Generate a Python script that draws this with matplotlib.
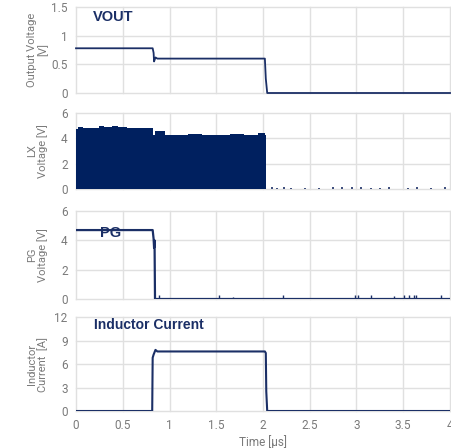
import matplotlib
matplotlib.use("Agg")
import matplotlib.pyplot as plt
import numpy as np

# ---------------- data ----------------
# Output voltage (V)
t_vout = [0.0, 0.82, 0.83, 0.835, 0.85, 0.87, 2.02, 2.03, 2.045, 4.0]
vout   = [0.78, 0.78, 0.70, 0.55, 0.62, 0.60, 0.60, 0.25, 0.0, 0.0]

# LX switching envelope (V)
t_lx  = [0.0, 0.02, 0.08, 0.15, 0.25, 0.30, 0.38, 0.45, 0.55, 0.65, 0.75, 0.82, 0.825, 0.83, 0.835,
         0.85, 0.95, 1.05, 1.2, 1.35, 1.5, 1.65, 1.8, 1.95, 2.02, 2.03]
lx_top = [4.7, 4.9, 4.85, 4.85, 4.95, 4.9, 5.0, 4.9, 4.85, 4.85, 4.85, 4.85, 4.3, 3.5, 4.3,
          4.6, 4.3, 4.3, 4.35, 4.3, 4.3, 4.35, 4.3, 4.4, 4.3, 4.1]
t_lx_glitch = [2.10, 2.15, 2.22, 2.30, 2.45, 2.60, 2.75, 2.85, 2.95, 3.05, 3.15, 3.25, 3.35, 3.55, 3.65, 3.80, 3.95]
lx_glitch   = [0.12, 0.10, 0.12, 0.10, 0.10, 0.10, 0.12, 0.14, 0.12, 0.12, 0.10, 0.10, 0.12, 0.10, 0.12, 0.10, 0.12]

# PG voltage (V)
t_pg = [0.0, 0.82, 0.83, 0.835, 0.84, 0.845, 4.0]
pg   = [4.7, 4.7, 4.1, 3.5, 4.0, 0.0, 0.0]
t_pg_glitch = [0.89, 1.53, 1.68, 2.21, 2.98, 3.02, 3.15, 3.40, 3.51, 3.56, 3.62, 3.64, 3.90]
pg_glitch   = [0.25, 0.25, 0.15, 0.25, 0.25, 0.25, 0.25, 0.20, 0.25, 0.25, 0.25, 0.25, 0.30]

# Inductor current (A)
t_il = [0.0, 0.815, 0.82, 0.83, 0.85, 0.87, 2.02, 2.03, 2.035, 2.045, 4.0]
il   = [0.0, 0.0, 6.8, 7.2, 7.8, 7.6, 7.6, 7.4, 2.5, 0.0, 0.0]

x_ticks = [0, 0.5, 1, 1.5, 2, 2.5, 3, 3.5, 4]
x_ticklabels = ["0", "0.5", "1", "1.5", "2", "2.5", "3", "3.5", "4"]

# ---------------- figure ----------------
W, H = 452, 448
fig = plt.figure(figsize=(W / 100, H / 100), dpi=100)
plt.rcParams['font.family'] = ['Roboto', 'DejaVu Sans']

line_c = "#1b2f66"
fill_c = "#00205f"
grid_c = "#e0e0e0"
txt_c = "#7a7a7a"
ann_font = ['Liberation Sans', 'DejaVu Sans']

left = 76 / W
width = (450 - 76) / W

def mkax(top_px, bot_px):
    return fig.add_axes([left, 1 - bot_px / H, width, (bot_px - top_px) / H])

axes_px = [(7, 93), (113, 189), (211, 299), (317, 411)]
axs = [mkax(a, b) for a, b in axes_px]

ylims = [(0, 1.5), (0, 6), (0, 6), (0, 12)]
yticks = [[0, 0.5, 1, 1.5], [0, 2, 4, 6], [0, 2, 4, 6], [0, 3, 6, 9, 12]]
yticklabels = [["0", "0.5", "1", "1.5"], ["0", "2", "4", "6"], ["0", "2", "4", "6"], ["0", "3", "6", "9", "12"]]
ylabels = ["Output Voltage\n[V]", "LX\nVoltage [V]", "PG\nVoltage [V]", "Inductor\nCurrent  [A]"]

for ax, yl, yt, ytl, lab in zip(axs, ylims, yticks, yticklabels, ylabels):
    ax.set_xlim(0, 4)
    ax.set_ylim(*yl)
    ax.set_xticks(x_ticks)
    ax.set_yticks(yt)
    ax.set_yticklabels(ytl)
    for s in ax.spines.values():
        s.set_visible(False)
    ax.grid(True, color=grid_c, linewidth=1.0)
    ax.set_axisbelow(True)
    ax.tick_params(length=0, colors=txt_c, labelsize=8.5, pad=6)
    ax.set_ylabel(lab, color=txt_c, fontsize=8, linespacing=1.0)
    ax.yaxis.set_label_coords(-0.075, 0.5)
    for g in ax.get_xgridlines() + ax.get_ygridlines():
        g.set_clip_on(False)

for ax in axs[:3]:
    ax.set_xticklabels([])
axs[3].set_xticklabels(x_ticklabels)
axs[3].set_xlabel("Time [µs]", color=txt_c, fontsize=8.5, labelpad=2)

# VOUT
axs[0].plot(t_vout, vout, color=line_c, lw=1.3, clip_on=False)
axs[0].text(0.18, 1.33, "VOUT", color=line_c, fontsize=10.5, fontweight="bold", va="center",
            family=ann_font)

# LX
axs[1].fill_between(t_lx, 0, lx_top, step="post", color=fill_c, lw=0)
axs[1].vlines(t_lx_glitch, 0, lx_glitch, color=line_c, lw=1.2)
axs[1].plot([2.03, 4.0], [0.02, 0.02], color=line_c, lw=0.6, ls=(0, (3, 3)))

# PG
axs[2].plot(t_pg, pg, color=line_c, lw=1.6)
axs[2].vlines(t_pg_glitch, 0, pg_glitch, color=line_c, lw=1.0)
axs[2].text(0.26, 4.5, "PG", color=line_c, fontsize=10.5, fontweight="bold", va="center",
            family=ann_font)

# Inductor current
axs[3].plot(t_il, il, color=line_c, lw=1.5)
axs[3].text(0.78, 11.0, "Inductor Current", color=line_c, fontsize=10, fontweight="bold",
            va="center", ha="center", family=ann_font)

fig.savefig("out.png", dpi=100)
